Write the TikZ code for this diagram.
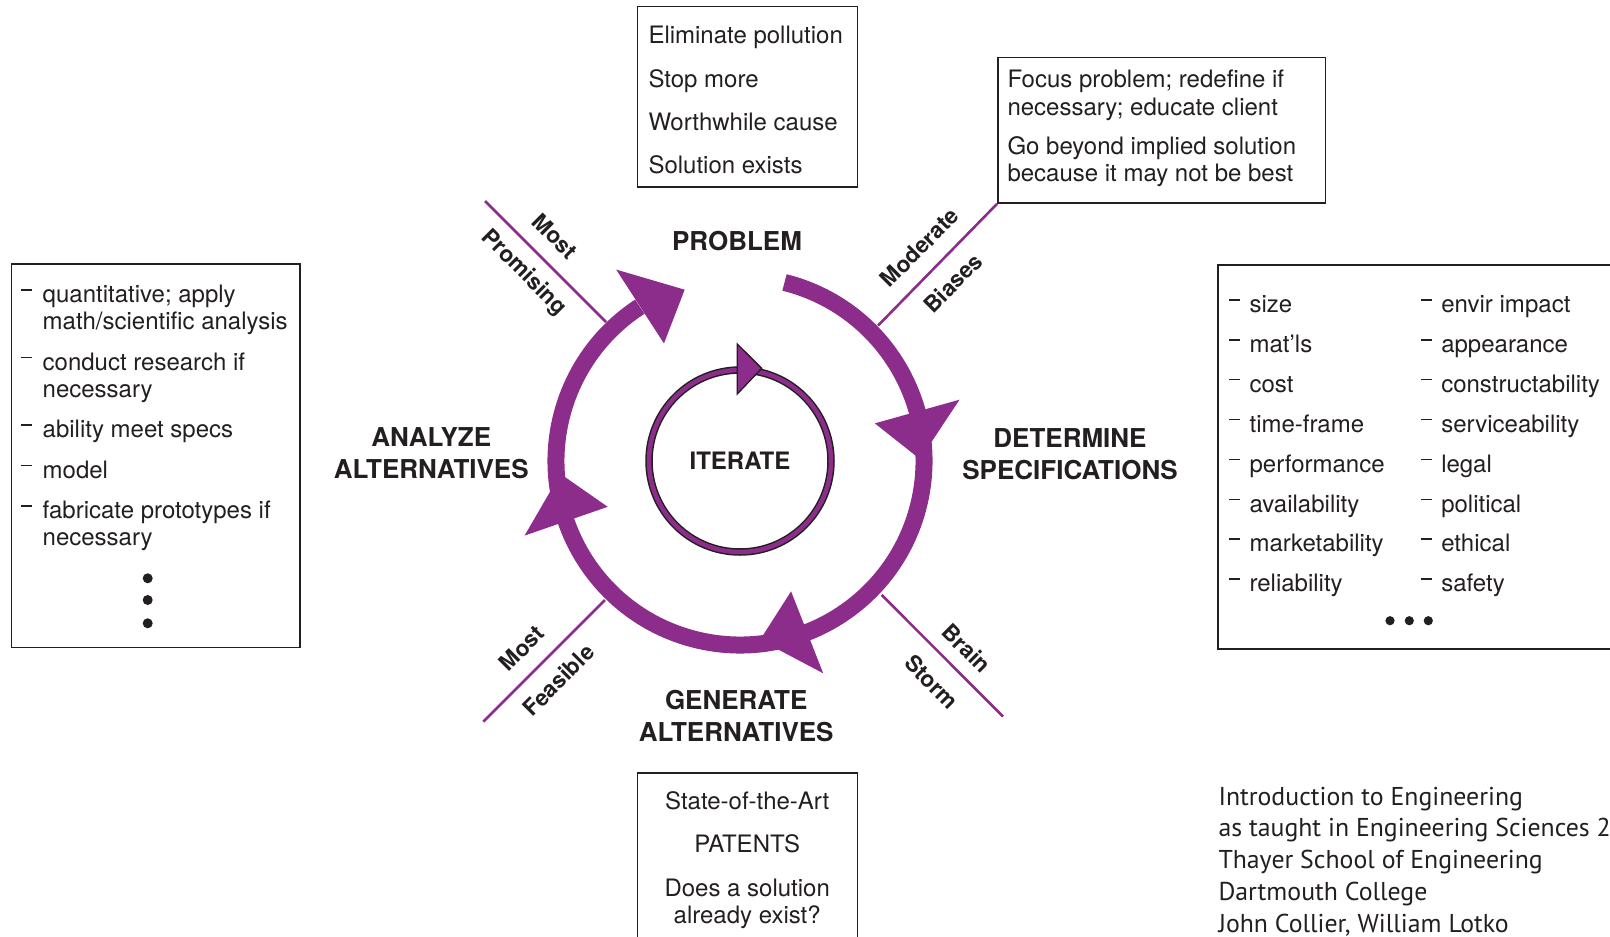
\documentclass[tikz,border=0pt]{standalone}
\usepackage{fontspec}
\setmainfont{TeX Gyre Heros}
\newfontfamily\creditfont{PT Sans}
\definecolor{ringpurple}{RGB}{140,44,139}
\definecolor{ink}{RGB}{35,31,32}
\newcommand{\dshrule}{\rule[.5em]{.45em}{.06em}}
\newcommand{\dsh}{\dshrule\hspace{.4em}}

\begin{document}
\begin{tikzpicture}[x=1pt, y=1pt,
    ring/.style={draw=ringpurple, line width=17pt},
    spoke/.style={draw=ringpurple, line width=2.6pt},
    framebox/.style={draw=ink, line width=1.6pt, inner sep=0pt, anchor=north west},
    boxtext/.style={text=ink, inner sep=0pt, anchor=base west, font=\fontsize{24}{#1}\selectfont},
    boxtext/.default=27.7,
    stage/.style={text=ink, align=center, inner sep=0pt, font=\fontsize{26}{31.8}\selectfont\bfseries},
    spokelabel/.style={text=ink, inner sep=0pt, font=\fontsize{22.5}{26}\selectfont\bfseries}]
    \useasboundingbox (0,0) rectangle (1610,-937);
    \clip (0,0) rectangle (1610,-937);

    % Cycle
    \coordinate (hub) at (740,-461);
    \begin{scope}[shift={(hub)}]
        \draw[ring] (76:184) arc[start angle=76, end angle=-237, radius=184];
        \foreach \a in {15.6,-68.6,-160.9,-237.1}
            \fill[ringpurple, rotate=\a] (140,0) -- (228,0) -- (173.9,-46.6) -- cycle;
        % Iterate loop
        \draw[ink, line width=7.5pt] (0,0) circle[radius=91];
        \draw[ringpurple, line width=4.5pt] (0,0) circle[radius=91];
        \filldraw[fill=ringpurple, draw=ink, line width=1.3pt] (-2.7,117) -- (21.7,92.7) -- (-2.7,67) -- cycle;
    \end{scope}
    \node[stage, font=\fontsize{24}{28}\selectfont\bfseries] (iterate) at (hub) {ITERATE};

    % Stages
    \node[stage] (problem) at (737,-241) {PROBLEM};
    \node[stage] (specify) at (1070,-454.4) {DETERMINE\\SPECIFICATIONS};
    \node[stage] (generate) at (736.2,-716.2) {GENERATE\\ALTERNATIVES};
    \node[stage] (analyze) at (431.3,-453.3) {ANALYZE\\ALTERNATIVES};

    % Boxes
    \node[framebox, minimum width=220, minimum height=180.5] (needbox) at (636.5,-5.5) {};
    \node[framebox, minimum width=327.6, minimum height=145.8] (focusbox) at (997,-56.5) {};
    \node[framebox, minimum width=420, minimum height=384] (specbox) at (1217.3,-264) {};
    \node[framebox, minimum width=288.3, minimum height=383.4] (analyzebox) at (10.7,-263.3) {};
    \node[framebox, minimum width=220, minimum height=200] (searchbox) at (636.7,-772.3) {};

    % Box texts
    \node[boxtext=43.3] (needtext) at ([xshift=11.8, yshift=-38.2]needbox.north west)
        {\begin{tabular}[t]{@{}l@{}}Eliminate pollution\\Stop more\\Worthwhile cause\\Solution exists\end{tabular}};
    \node[boxtext] (focustext) at ([xshift=10.3, yshift=-31]focusbox.north west)
        {\begin{tabular}[t]{@{}l@{}}Focus problem; redefine if\\necessary; educate client\\[11.3pt]
         Go beyond implied solution\\because it may not be best\end{tabular}};
    \node[boxtext=39.86] (spectext) at ([xshift=11.7, yshift=-48.7]specbox.north west)
        {\begin{tabular}[t]{@{}p{191.7pt}@{}l@{}}
         \dsh size & \dsh envir impact\\
         \dsh mat'ls & \dsh appearance\\
         \dsh cost & \dsh constructability\\
         \dsh time-frame & \dsh serviceability\\
         \dsh performance & \dsh legal\\
         \dsh availability & \dsh political\\
         \dsh marketability & \dsh ethical\\
         \dsh reliability & \dsh safety
         \end{tabular}};
    \node[boxtext=27] (analyzetext) at ([xshift=10, yshift=-39.2]analyzebox.north west)
        {\begin{tabular}[t]{@{}l@{\hspace{11pt}}l@{}}
         \dshrule & quantitative; apply\\ & math/scientific analysis\\[13.6pt]
         \dshrule & conduct research if\\ & necessary\\[13.6pt]
         \dshrule & ability meet specs\\[13.6pt]
         \dshrule & model\\[13.6pt]
         \dshrule & fabricate prototypes if\\ & necessary
         \end{tabular}};
    \node[boxtext=27.5, anchor=base] (searchtext) at ([xshift=110.5, yshift=-37.2]searchbox.north west)
        {\begin{tabular}[t]{@{}c@{}}State-of-the-Art\\[15.5pt]PATENTS\\[16pt]Does a solution\\already exist?\end{tabular}};
    \foreach \y in {578.3,600,623.3}
        \fill[ink] (147.7,-\y) circle[radius=5];
    \foreach \x in {1390,1409.3,1428.3}
        \fill[ink] (\x,-620.7) circle[radius=4.6];

    % Spokes
    \coordinate (ulin) at (606,-322);
    \coordinate (ulout) at (485,-201);
    \coordinate (urin) at (878,-325.6);
    \coordinate (lrin) at (881.7,-595);
    \coordinate (lrout) at (1003,-716.5);
    \coordinate (llin) at (605,-600);
    \coordinate (llout) at (483.3,-721.7);
    \draw[spoke] (ulin) -- (ulout);
    \draw[spoke] (urin) -- (focusbox.south west);
    \draw[spoke] (lrin) -- (lrout);
    \draw[spoke] (llin) -- (llout);

    \node[spokelabel, rotate=-45] (mostup) at (555.2,-236.1) {Most};
    \node[spokelabel, rotate=-45] (promising) at (523.7,-273) {Promising};
    \node[spokelabel, rotate=45] (moderate) at (919.5,-247.5) {Moderate};
    \node[spokelabel, rotate=45] (biases) at (953,-283) {Biases};
    \node[spokelabel, rotate=-45] (brain) at (966.7,-648.3) {Brain};
    \node[spokelabel, rotate=-45] (storm) at (931.7,-681.7) {Storm};
    \node[spokelabel, rotate=45] (mostdown) at (521.7,-648.3) {Most};
    \node[spokelabel, rotate=45] (feasible) at (558.3,-680) {Feasible};

    % Credits
    \node[boxtext=31.8, font=\creditfont\fontsize{25.8}{31.8}\selectfont] (credits) at (1218.3,-805)
        {\begin{tabular}[t]{@{}l@{}}Introduction to Engineering\\as taught in Engineering Sciences 2\\
         Thayer School of Engineering\\Dartmouth College\\John Collier, William Lotko\end{tabular}};
\end{tikzpicture}
\end{document}
